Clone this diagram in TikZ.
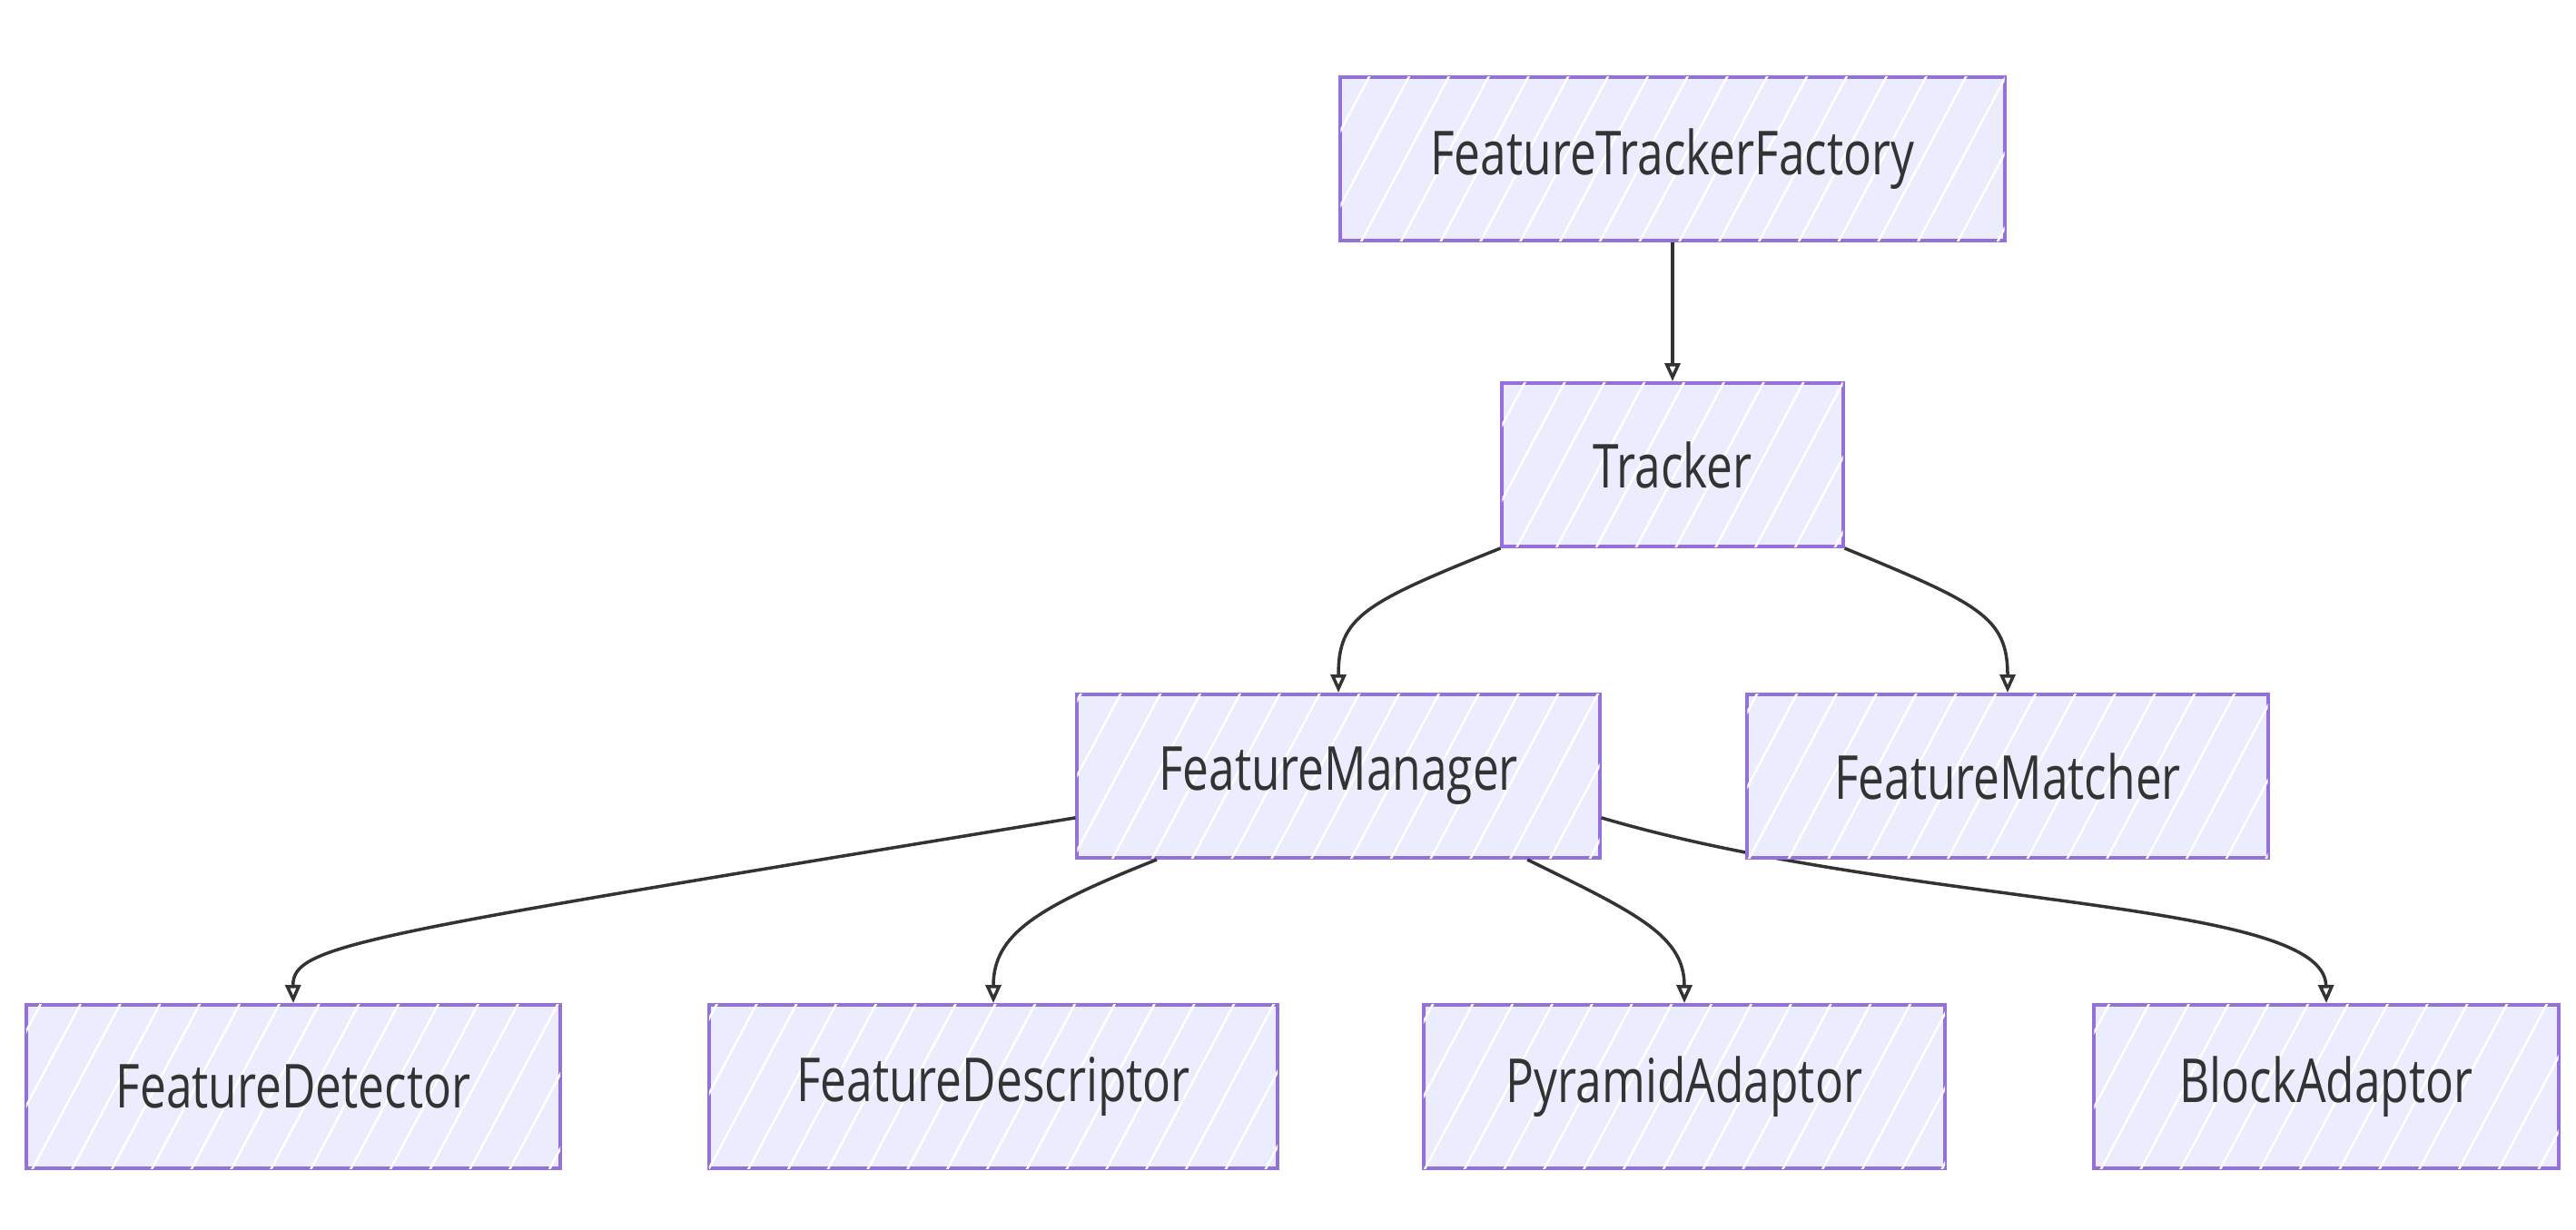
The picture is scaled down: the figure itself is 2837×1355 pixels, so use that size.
\documentclass[tikz,border=0pt]{standalone}
\usepackage{fontspec}
\setmainfont{Open Sans}[FakeStretch=0.77]
\usetikzlibrary{arrows.meta,patterns.meta}
\definecolor{nodefill}{HTML}{ECECFF}
\definecolor{nodeline}{HTML}{9370DB}
\definecolor{inkgray}{HTML}{333333}

\begin{document}
\begin{tikzpicture}[
    x=0.01cm, y=-0.01cm,
    box/.style={draw=nodeline, line width=1.1pt, fill=nodefill, minimum height=1.8cm, inner sep=0pt, text=inkgray, font=\fontsize{19}{22}\selectfont,
      postaction={pattern={Lines[angle=62, distance=11pt, line width=0.7pt]}, pattern color=white}},
    arr/.style={-{Triangle[open, length=0.2cm, width=0.17cm]}, line width=1pt, draw=inkgray}
  ]
  \useasboundingbox (0,0) rectangle (2837,1355);
  % classes
  \node[box, minimum width=7.31cm] (factory) at (1842,175) {FeatureTrackerFactory};
  \node[box, minimum width=3.75cm] (tracker) at (1842,512) {Tracker};
  \node[box, minimum width=5.75cm] (fmgr) at (1474,855) {FeatureManager};
  \node[box, minimum width=5.88cm] (fdet) at (323,1197) {FeatureDetector};
  \node[box, minimum width=6.26cm] (fdesc) at (1094,1197) {FeatureDescriptor};
  \node[box, minimum width=5.74cm] (pyr) at (1855,1197) {PyramidAdaptor};
  \node[box, minimum width=5.11cm] (block) at (2562,1197) {BlockAdaptor};
  % this one runs behind the matcher box
  \draw[arr] (fmgr.351) .. controls (2100,1000) and (2560,990) .. (block.north);
  \node[box, minimum width=5.73cm] (fmatch) at (2211,855) {FeatureMatcher};
  % inheritance
  \draw[arr] (factory) -- (tracker);
  \draw[arr] (tracker.south west) .. controls (1500,665) and (1474,680) .. (fmgr.north);
  \draw[arr] (tracker.south east) .. controls (2180,665) and (2211,680) .. (fmatch.north);
  \draw[arr] (fmgr.189) .. controls (400,1030) and (322,1040) .. (fdet.north);
  \draw[arr] ([xshift=-2cm]fmgr.south) .. controls (1140,1000) and (1094,1030) .. (fdesc.north);
  \draw[arr] ([xshift=2.08cm]fmgr.south) .. controls (1800,1005) and (1855,1030) .. (pyr.north);
\end{tikzpicture}
\end{document}
